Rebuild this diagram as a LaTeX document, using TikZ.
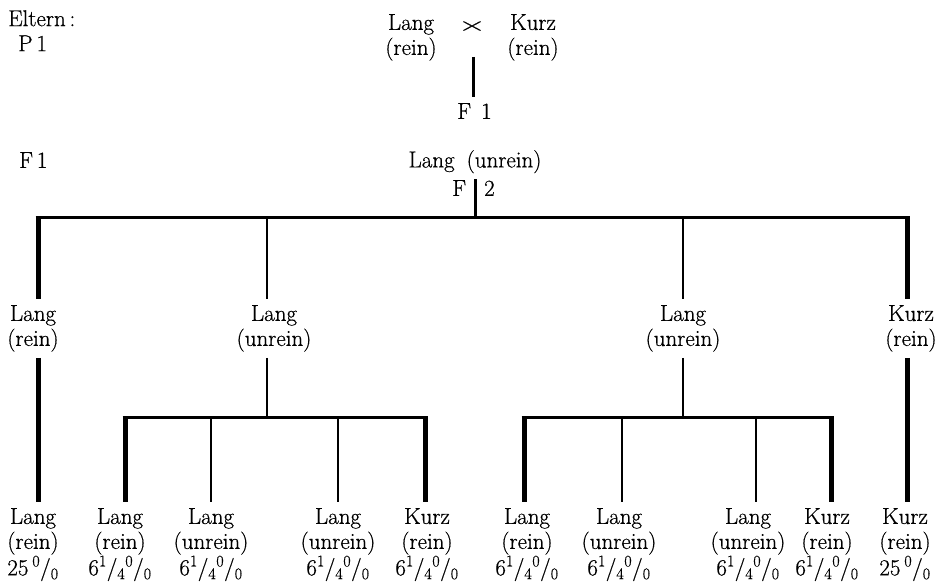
\documentclass[tikz,border=0pt]{standalone}
\usepackage{fontspec}
\setmainfont{Latin Modern Roman}[FakeBold=0.6]
\newcommand{\vq}{6\textsuperscript{1}/\textsubscript{4}\textsuperscript{0}/\textsubscript{0}}
\newcommand{\vf}{25\,\textsuperscript{0}/\textsubscript{0}}
\begin{document}
\begin{tikzpicture}[x=1pt,y=-1pt,
  lbl/.style={align=center,inner xsep=0pt,inner ysep=6pt,anchor=north,font=\fontsize{23}{25}\selectfont},
  thk/.style={line width=5pt},
  thn/.style={line width=2pt},
  barl/.style={line width=3pt}]
\useasboundingbox (0,0) rectangle (946,585);

% --- top: parents
\node[lbl,align=left,anchor=north west] (elt) at (8,4) {Eltern\,:\\\hspace*{10pt}P\,1};
\node[lbl] (pl) at (411,8) {Lang\\(rein)};
\node[lbl,inner ysep=0pt] (x) at (472,21) {\scalebox{1.7}[0.9]{×}};
\node[lbl] (pk) at (533,8) {Kurz\\(rein)};
\node[lbl] (f1) at (474.5,97) {F\hspace{10pt}1};
\coordinate (c1) at (473,57);
\draw[barl] (c1) -- (c1 |- f1.north);

% --- F1
\node[lbl,anchor=north west] (f1l) at (19,146) {F\,1};
\node[lbl] (lu) at (475,144) {Lang\hspace{12pt}(unrein)};
\node[lbl] (f2) at (473.5,174) {F\hspace{18pt}2};
\coordinate (t2) at (475,218);
\draw[barl] (t2 |- lu.south) -- (t2);

% --- main bar
\coordinate (v1) at (38,218);
\coordinate (v2) at (267,218);
\coordinate (v3) at (683,218);
\coordinate (v4) at (907,218);
\draw[barl] ([xshift=-2.5pt]v1) -- ([xshift=2.5pt]v4);

% --- middle row
\node[lbl] (m1) at (33,299) {Lang\\(rein)};
\node[lbl] (m2) at (274,299) {Lang\\(unrein)};
\node[lbl] (m3) at (683,299) {Lang\\(unrein)};
\node[lbl] (m4) at (911,299) {Kurz\\(rein)};
\draw[thk] ([yshift=1.5pt]v1) -- (v1 |- m1.north);
\draw[thn] ([yshift=1.5pt]v2) -- (v2 |- m2.north);
\draw[thn] ([yshift=1.5pt]v3) -- (v3 |- m3.north);
\draw[thk] ([yshift=1.5pt]v4) -- (v4 |- m4.north);

% --- bottom row
\node[lbl] (b1) at (33,502) {Lang\\(rein)\\\vf};
\node[lbl] (b2) at (120,502) {Lang\\(rein)\\\vq};
\node[lbl] (b3) at (211,502) {Lang\\(unrein)\\\vq};
\node[lbl] (b4) at (338,502) {Lang\\(unrein)\\\vq};
\node[lbl] (b5) at (427,502) {Kurz\\(rein)\\\vq};
\node[lbl] (b6) at (527,502) {Lang\\(rein)\\\vq};
\node[lbl] (b7) at (619,502) {Lang\\(unrein)\\\vq};
\node[lbl] (b8) at (748,502) {Lang\\(unrein)\\\vq};
\node[lbl] (b9) at (827,502) {Kurz\\(rein)\\\vq};
\node[lbl] (b10) at (905,502) {Kurz\\(rein)\\\vf};

% outer pure lines
\draw[thk] (v1 |- m1.south) -- (v1 |- b1.north);
\draw[thk] (v4 |- m4.south) -- (v4 |- b10.north);

% --- sub bars
\coordinate (u2) at (267,418);
\coordinate (u3) at (683,418);
\draw[thn] (u2 |- m2.south) -- (u2);
\draw[thn] (u3 |- m3.south) -- (u3);

\coordinate (s1) at (125,418);
\coordinate (s2) at (211,418);
\coordinate (s3) at (338,418);
\coordinate (s4) at (425,418);
\coordinate (s5) at (524,418);
\coordinate (s6) at (622,418);
\coordinate (s7) at (756,418);
\coordinate (s8) at (831,418);
\draw[barl] ([xshift=-2.5pt]s1) -- ([xshift=2.5pt]s4);
\draw[barl] ([xshift=-2.5pt]s5) -- ([xshift=2.5pt]s8);

\draw[thk] ([yshift=1.5pt]s1) -- (s1 |- b2.north);
\draw[thn] ([yshift=1.5pt]s2) -- (s2 |- b3.north);
\draw[thn] ([yshift=1.5pt]s3) -- (s3 |- b4.north);
\draw[thk] ([yshift=1.5pt]s4) -- (s4 |- b5.north);
\draw[thk] ([yshift=1.5pt]s5) -- (s5 |- b6.north);
\draw[thn] ([yshift=1.5pt]s6) -- (s6 |- b7.north);
\draw[thn] ([yshift=1.5pt]s7) -- (s7 |- b8.north);
\draw[thk] ([yshift=1.5pt]s8) -- (s8 |- b9.north);
\end{tikzpicture}
\end{document}
